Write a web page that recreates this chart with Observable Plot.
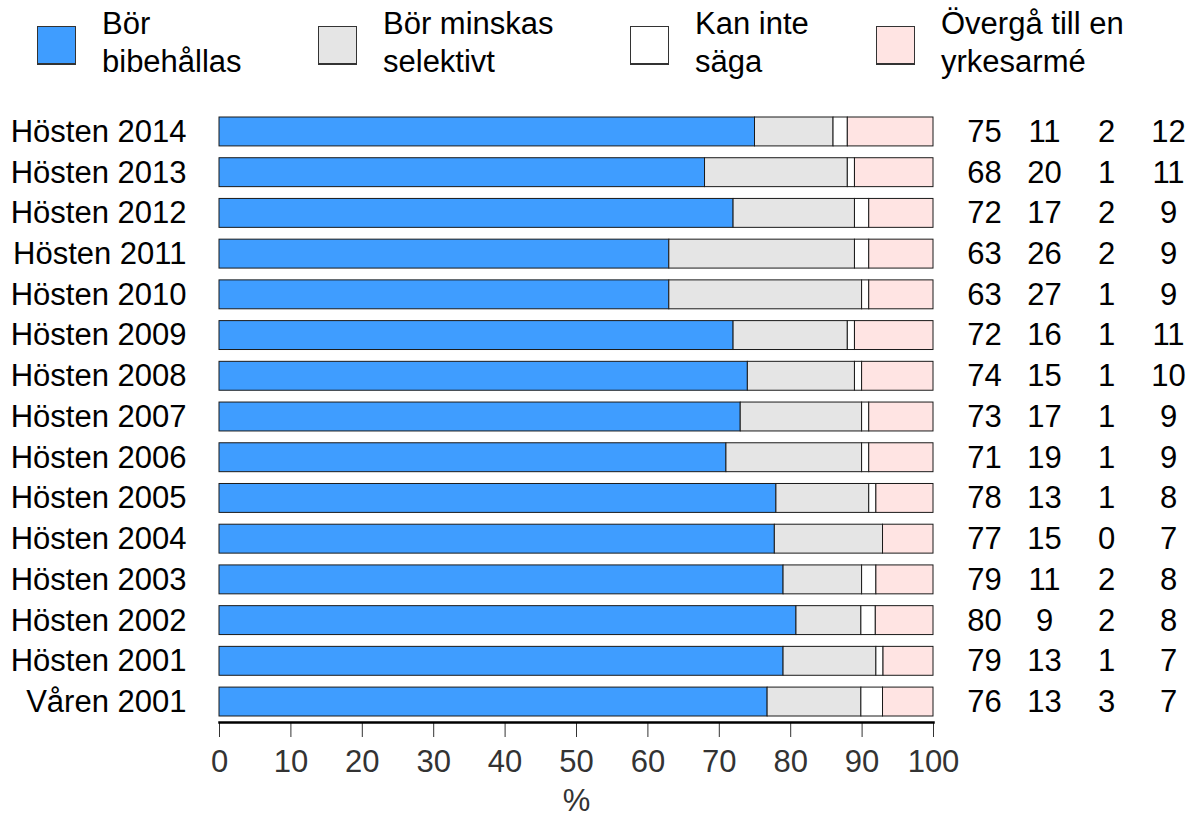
<!DOCTYPE html>
<html>
<head>
<meta charset="utf-8">
<script src="https://cdn.jsdelivr.net/npm/d3@7"></script>
<script src="https://cdn.jsdelivr.net/npm/@observablehq/plot@0.6"></script>
<style>
  body { margin: 0; background: #fff; font-family: "Liberation Sans", Arial, sans-serif; }
  #wrap { width: 1202px; }
  #legend { position: relative; height: 100px; width: 1202px; }
  .sw { position: absolute; top: 26px; width: 37px; height: 36px; border: 1px solid #333; border-bottom-width: 2px; }
  .lt { position: absolute; top: 5px; font-size: 31px; line-height: 38px; color: #000; white-space: nowrap; }
</style>
</head>
<body>
<div id="wrap">
  <div id="legend"></div>
  <div id="chart"></div>
</div>
<script>
const periods = ["Hösten 2014","Hösten 2013","Hösten 2012","Hösten 2011","Hösten 2010","Hösten 2009","Hösten 2008","Hösten 2007","Hösten 2006","Hösten 2005","Hösten 2004","Hösten 2003","Hösten 2002","Hösten 2001","Våren 2001"];
const bibehallas = [75,68,72,63,63,72,74,73,71,78,77,79,80,79,76];
const minskas    = [11,20,17,26,27,16,15,17,19,13,15,11,9,13,13];
const kanInte    = [2,1,2,2,1,1,1,1,1,1,0,2,2,1,3];
const yrkesarme  = [12,11,9,9,9,11,10,9,9,8,7,8,8,7,7];
const categories = ["Bör bibehållas","Bör minskas selektivt","Kan inte säga","Övergå till en yrkesarmé"];
const legendLines = [["Bör","bibehållas"],["Bör minskas","selektivt"],["Kan inte","säga"],["Övergå till en","yrkesarmé"]];
const colors = ["#3f9dff","#e5e5e5","#ffffff","#ffe4e3"];
const xTicks = [0,10,20,30,40,50,60,70,80,90,100];

const series = [bibehallas, minskas, kanInte, yrkesarme];
const rows = [];
periods.forEach((p, i) => {
  series.forEach((s, j) => rows.push({period: p, cat: categories[j], value: s[i]}));
});
const table = periods.map((p, i) => ({period: p, vals: series.map(s => s[i])}));

// Legend
const legend = document.getElementById("legend");
const swX = [37, 318, 630, 876];
categories.forEach((c, j) => {
  const sw = document.createElement("div");
  sw.className = "sw";
  sw.style.left = swX[j] + "px";
  sw.style.background = colors[j];
  legend.appendChild(sw);
  const t = document.createElement("div");
  t.className = "lt";
  t.style.left = (swX[j] + 65) + "px";
  t.innerHTML = legendLines[j].join("<br>");
  legend.appendChild(t);
});

const colDx = [51, 111, 173, 235];

const chart = Plot.plot({
  width: 1202,
  height: 716,
  marginLeft: 219,
  marginRight: 269,
  marginTop: 17,
  marginBottom: 94,
  style: {fontFamily: "Liberation Sans, Arial, sans-serif", background: "#fff", overflow: "visible"},
  x: {domain: [0, 1]},
  y: {domain: periods, paddingInner: 0.29, paddingOuter: 0, insetBottom: 6, round: false},
  color: {domain: categories, range: colors},
  marks: [
    Plot.barX(rows, Plot.stackX({
      offset: "normalize",
      order: categories,
      x: "value", y: "period", fill: "cat",
      stroke: "#1a1a1a", strokeWidth: 1
    })),
    ...colDx.map((dx, j) => Plot.text(table, {
      x: 1, y: "period", text: d => String(d.vals[j]),
      dx, textAnchor: "middle", fontSize: 31, fill: "#000"
    })),
    Plot.axisY({tickSize: 0, tickPadding: 33, fontSize: 31, fill: "#000", label: null}),
    Plot.axisX({
      anchor: "bottom",
      ticks: xTicks.map(t => t / 100),
      tickFormat: d => String(Math.round(d * 100)),
      tickSize: 15, tickPadding: 12,
      fontSize: 31, color: "#333",
      label: "%", labelAnchor: "center", labelArrow: "none", labelOffset: 88
    }),
    Plot.frame({anchor: "bottom", strokeWidth: 2.5, stroke: "#000"})
  ]
});
document.getElementById("chart").appendChild(chart);
</script>
</body>
</html>
